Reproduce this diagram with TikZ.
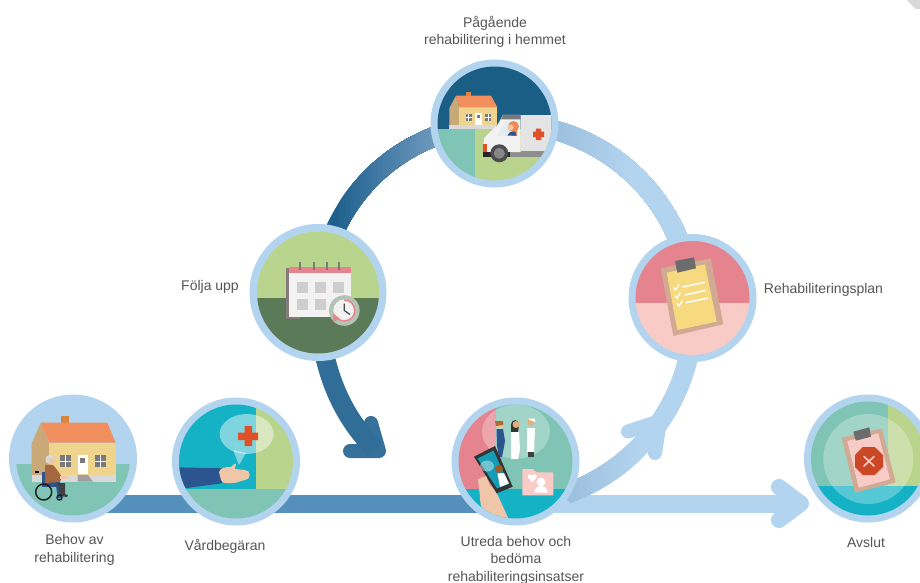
\documentclass[tikz,border=0pt]{standalone}
\usepackage{fontspec}
\setmainfont{Liberation Sans}
\usetikzlibrary{backgrounds,calc}
\definecolor{ringc}{HTML}{B3D4EF}
\definecolor{bandd}{HTML}{558FBB}
\definecolor{deep}{HTML}{1F618E}
\definecolor{deepl}{HTML}{739CC0}
\definecolor{ringd}{HTML}{9CC0DF}
\definecolor{teal}{HTML}{7FC4B4}
\definecolor{leaf}{HTML}{B9D48C}
\definecolor{cyanc}{HTML}{15B2C6}
\definecolor{sky}{HTML}{1B5E85}
\definecolor{moss}{HTML}{5B7A58}
\definecolor{rosec}{HTML}{E5848F}
\definecolor{pinkc}{HTML}{F9CBC7}
\definecolor{wall}{HTML}{EED48D}
\definecolor{sidew}{HTML}{C9A978}
\definecolor{roofc}{HTML}{F28F5F}
\definecolor{chimc}{HTML}{D9863C}
\definecolor{baseg}{HTML}{D9D9D9}
\definecolor{midg}{HTML}{7A7A7A}
\definecolor{crossc}{HTML}{E2502A}
\definecolor{armc}{HTML}{2C548F}
\definecolor{skin}{HTML}{F0C6A8}
\definecolor{boardc}{HTML}{D0AA93}
\definecolor{paperc}{HTML}{F7D97F}
\definecolor{clipc}{HTML}{6C6C6C}
\definecolor{textc}{HTML}{555555}
\definecolor{coat}{HTML}{A5673F}
\tikzset{
  x=1pt,y=-1pt,
  stage/.style={circle,inner sep=0pt,outer sep=0pt,minimum size=128pt,fill=ringc},
  stagebig/.style={stage,minimum size=137pt},
  lbl/.style={text=textc,font=\fontsize{14}{17.4}\selectfont,align=center,inner sep=0pt},
  bandline/.style={line width=18pt,line cap=butt},
  curveline/.style={line width=19.5pt,line cap=butt},
  headline/.style={line width=14pt,line cap=round,line join=round},
}
\begin{document}
\begin{tikzpicture}
\useasboundingbox (0,0) rectangle (920,583);
% stage circles
\node[stage] (beh) at (73,458.5) {};
\node[stage] (var) at (236,461.5) {};
\node[stage] (pag) at (494.5,123.5) {};
\node[stagebig] (fol) at (318,292.5) {};
\node[stage] (reh) at (692.5,298) {};
\node[stage] (utr) at (515.5,461.5) {};
\node[stage] (avs) at (868,458.5) {};
\coordinate (foltip) at (379,451);
\coordinate (folend) at (376,450);
\coordinate (folA) at (350,451);
\coordinate (folB) at (371,423);
\coordinate (uptip) at (660,421);
\coordinate (upA) at (628,431.5);
\coordinate (upB) at (655,453);
\coordinate (avstip) at (801,503.5);
\coordinate (avsA) at (779,487);
\coordinate (avsB) at (779,520);
\begin{pgfonlayer}{background}
  \fill[white] (0,0) rectangle (920,583);
  \fill[baseg] (906.5,0) -- (915.5,9) -- (920,9) -- (920,0) -- cycle;
  % horizontal bands
  \draw[bandline,bandd] (beh.center |- var.222) -- (var.center |- var.222);
  \draw[bandline,bandd] (var.center |- var.222) -- (utr.center |- var.222);
  \draw[bandline,ringc] (utr.center |- var.222) -- (avstip |- var.222);
  \draw[line width=16pt,line cap=round,line join=round,ringc] (avsA) -- (avstip) -- (avsB);
  % dark arc with horizontal gradient
  \foreach \i in {0,...,40}{
    \pgfmathsetmacro{\m}{100-\i*2.5}
    \pgfmathsetmacro{\xs}{\i==0 ? 0 : 335+\i*2.6}
    \begin{scope}
      \clip (\xs,0) rectangle (920,583);
      \draw[curveline,color=deep!\m!deepl] (pag.center) to[bend right=40] (fol.center);
    \end{scope}
  }
  \draw[headline,color=deep!90!white] (folA) -- (foltip) -- (folB);
  \draw[curveline,color=deep!92!white] (fol.center) .. controls (318,345) and (330,405) .. (folend);
  % light arcs
  \foreach \i in {0,...,30}{
    \pgfmathsetmacro{\m}{\i*3.33}
    \pgfmathsetmacro{\xs}{\i==0 ? 0 : 555+\i*2.5}
    \begin{scope}
      \clip (\xs,0) rectangle (920,583);
      \draw[curveline,color=ringc!\m!ringd] (pag.center) to[bend left=44] (reh.center);
    \end{scope}
  }
  \draw[curveline,ringc] (utr.center) -- (utr.-28) .. controls (650.8,460.9) and (699.6,382.2) .. (reh.center);
  \draw[headline,ringc] (upA) -- (uptip) -- (upB);
  \foreach \i in {0,...,24}{
    \pgfmathsetmacro{\m}{100-\i*4.16}
    \begin{scope}
      \clip (560,400) rectangle ({640-\i*2.8},520);
      \draw[curveline,color=ringc!\m!ringd] (utr.center) -- (utr.-28) .. controls (650.8,460.9) and (699.6,382.2) .. (reh.center);
    \end{scope}
  }
\end{pgfonlayer}

% ---------- Behov av rehabilitering
\begin{scope}
  \clip (beh.center) circle[radius=57];
  \fill[teal] (0,464) rectangle (140,530);
\end{scope}
\fill[sidew] (40.7,423) -- (31.7,443.3) -- (31.7,475) -- (49.3,475) -- (49.3,443.3) -- cycle;
\fill[chimc] (60.7,416) rectangle (69.3,426);
\fill[wall] (49.3,442.7) rectangle (116,475);
\fill[roofc] (40.7,422.7) -- (107.3,422.7) -- (115.7,442.7) -- (49.3,442.7) -- cycle;
\fill[baseg] (31.7,475) rectangle (116,481.7);
\fill[midg!60!baseg] (77.7,475) -- (88,475) -- (93,481.7) -- (77.7,481.7) -- cycle;
\fill[white] (77.7,454.7) rectangle (88.3,474.3);
\fill[midg] (80.3,458.3) rectangle (85.3,463.3);
\fill[midg] (60,455.3) rectangle (71,467.3);
\fill[midg] (94.7,455.3) rectangle (105.7,467.3);
\draw[white,line width=0.9pt] (65.5,455.3) -- (65.5,467.3) (60,461.3) -- (71,461.3) (100.2,455.3) -- (100.2,467.3) (94.7,461.3) -- (105.7,461.3);
\fill[black] (35,471) rectangle (39,473);
% wheelchair and person
\fill[armc] (41.7,472) rectangle (45,487);
\fill[armc] (42,482) rectangle (60,487);
\fill[armc] (56,486) -- (60,486) -- (61,498) -- (58,498) -- cycle;
\fill[coat] (45,465) to[out=0,in=120] (55,467) -- (62,477) -- (60,482) -- (45,483) -- cycle;
\fill[black!75] (56,483) -- (65,483) -- (65,494) -- (68,495) -- (67,497) -- (60,496) -- (59,487) -- cycle;
\fill[skin] (60,476) rectangle (67,479);
\draw[black!90,line width=1.4pt] (43.7,492) circle[radius=8];
\draw[black!90,line width=1.2pt] (59.5,497.5) circle[radius=2.6];
\fill[white!85!black] (50,459.5) circle[radius=4.6];
\fill[skin] (52,461) circle[radius=3];

% ---------- Vardbegaran
\begin{scope}
  \clip (var.center) circle[radius=57];
  \fill[cyanc] (170,400) rectangle (255.7,490);
  \fill[leaf] (255.7,400) rectangle (300,490);
  \fill[teal] (170,489) rectangle (300,525);
  \fill[armc] (175,467.3) -- (222,468.3) -- (222,483.3) -- (183,488.5) -- cycle;
\end{scope}
\fill[white,opacity=.45] (246.7,434) ellipse[x radius=27,y radius=20];
\fill[white,opacity=.45] (246,453) -- (239,465) -- (233,450) -- cycle;
\fill[crossc] (238,432.5) rectangle (258,440) (244.5,426) rectangle (252,446);
\fill[skin] (219,472) to[out=70,in=180] (231,467) to[out=30,in=170] (236,463.5) -- (235,469) -- (245,470) to[out=0,in=0,looseness=1.6] (245,480) to[out=190,in=0] (233,483) -- (225,483) to[out=180,in=-70] (219,472) -- cycle;

% ---------- Pagaende
\begin{scope}
  \clip (pag.center) circle[radius=57];
  \fill[sky] (430,60) rectangle (560,130);
  \fill[teal] (430,129) rectangle (475,190);
  \fill[leaf] (475,129) rectangle (560,190);
  % house
  \fill[sidew] (456,95.7) -- (449.3,108.3) -- (449.3,125) -- (459.3,125) -- (459.3,107.3) -- cycle;
  \fill[chimc] (465.7,92.3) rectangle (470.7,97);
  \fill[wall] (459.3,107.3) rectangle (497.3,125);
  \fill[roofc] (456,95.7) -- (491,95.7) -- (497.3,107.3) -- (459.3,107.3) -- cycle;
  \fill[baseg] (449.3,125) rectangle (496,129.3);
  \fill[white] (475.3,113.5) rectangle (482,125);
  \fill[midg] (477,115.5) rectangle (480,118.5);
  \fill[midg] (465.7,114) rectangle (471.7,120.7);
  \fill[midg] (485.3,114) rectangle (491.3,120.7);
  \draw[white,line width=.6pt] (468.7,114) -- (468.7,120.7) (465.7,117.3) -- (471.7,117.3) (488.3,114) -- (488.3,120.7) (485.3,117.3) -- (491.3,117.3);
  % truck
  \fill[baseg!70!white] (520.7,115) rectangle (556,152);
  \fill[midg!85!white] (510,151) rectangle (550,157.3);
  \fill[white!95!black] (483.3,146) -- (484,138.3) -- (498,124) -- (503,115) -- (520.7,115) -- (520.7,152) -- (483.3,152) -- cycle;
  \fill[midg] (503,115) -- (520.7,115) -- (520.7,119.3) -- (501,119.3) -- cycle;
  \fill[black!85] (483.3,151.5) rectangle (510,157.3);
  \fill[crossc] (483.3,144.3) rectangle (486.7,151.5);
  \fill[white!88!sky] (506,121) -- (517,121) -- (517,135.5) -- (497,135.5) -- cycle;
  \fill[roofc!70!chimc] (513.5,126.5) circle[radius=5.5];
  \fill[roofc!70!chimc] (512,128) rectangle (517,135.5);
  \fill[skin] (510.5,127.5) circle[radius=3];
  \fill[armc] (507.5,135.5) -- (510,132) -- (515,131.5) -- (516.5,135.5) -- cycle;
  \fill[black!70] (499.3,153.3) circle[radius=9];
  \fill[midg!90!white] (499.3,153.3) circle[radius=5.5];
  \fill[crossc] (533,131.5) rectangle (544,137) (535.8,128.5) rectangle (541.2,140);
\end{scope}

% ---------- Folja upp
\begin{scope}
  \clip (fol.center) circle[radius=61];
  \fill[leaf] (250,225) rectangle (390,298.3);
  \fill[moss] (250,298.3) rectangle (390,365);
\end{scope}
\fill[midg!90!rosec] (285.7,267.7) rectangle (300,319);
\fill[white!95!black] (289.3,272.7) rectangle (350.7,317.3);
\fill[rosec] (289.3,266.7) rectangle (350.7,273.3);
\foreach \cx in {300,313.7,326.7,339.3} \draw[midg,line width=2pt] (\cx,262.3) -- (\cx,270);
\foreach \cx in {296.7,314.7,333} \fill[baseg!95!black] (\cx,282) rectangle ++(11,11);
\foreach \cx in {296.7,314.7} \fill[baseg!95!black] (\cx,299) rectangle ++(11,11);
\fill[white!55!moss] (344.3,310.5) circle[radius=15.3];
\fill[white!95!black] (344.3,310.5) circle[radius=11];
\draw[rosec,line width=1.5pt] (344.3,300) arc[start angle=-90,end angle=140,radius=10.5];
\fill[rosec] (333,313) -- (339.5,318.5) -- (333,322) -- cycle;
\draw[midg!60!black,line width=1.2pt] (344.3,303.5) -- (344.3,310.5) -- (350,314.5);

% ---------- Rehabiliteringsplan
\begin{scope}
  \clip (reh.center) circle[radius=57];
  \fill[rosec] (630,235) rectangle (755,303.3);
  \fill[pinkc] (630,303.3) rectangle (755,360);
\end{scope}
\fill[boardc] (660.7,268.3) -- (710.7,258.3) -- (723.3,324.3) -- (673.3,336) -- cycle;
\fill[paperc] (666.7,272.7) -- (705,264.3) -- (716.7,321.7) -- (677.3,330) -- cycle;
\fill[clipc] (675,261) -- (694,257.3) -- (696,268.3) -- (677.3,272.7) -- cycle;
\draw[white,line width=1.5pt] (682.7,287) -- (704.7,282.3) (684.7,295) -- (706,290.3) (686,302.7) -- (708,298);
\draw[white,line width=1.3pt] (673.5,287.5) -- (675.5,290) -- (679,284.5) (675,295.5) -- (677,298) -- (680.5,292.5) (677,303.5) -- (679,306) -- (682.5,300.5);

% ---------- Utreda
\begin{scope}
  \clip (utr.center) circle[radius=57];
  \fill[rosec] (450,400) rectangle (496,490);
  \fill[teal] (496,400) rectangle (580,490);
  \fill[cyanc] (450,489) rectangle (580,525);
  \fill[white,opacity=.28] (516,431.7) ellipse[x radius=34,y radius=27];
  % nurse
  \fill[armc] (496.5,429) -- (503,429) -- (505,441) -- (504,447) -- (502,457) -- (499,457) -- (497,446) -- cycle;
  \fill[skin] (499.5,425) circle[radius=3.8];
  \fill[chimc!80!black] (495,421) -- (503,421) -- (503,425) -- (496,426) -- cycle;
  % doctor 1
  \fill[black!80] (511,425) to[out=90,in=180] (515,420) to[out=0,in=90] (519,425) -- (518,432) -- (511,432) -- cycle;
  \fill[white] (511,432) -- (519,432) -- (520,450) -- (518,459) -- (511,459) -- cycle;
  \fill[skin!60!chimc] (516,424.5) circle[radius=3.5];
  % doctor 2
  \fill[white] (527,428) -- (535,428) -- (534,452) -- (527,452) -- cycle;
  \fill[black!75] (528,452) rectangle (534,457);
  \fill[skin!60!chimc] (531,422) circle[radius=3.5];
  \fill[white] (528,418.5) -- (535,418.5) -- (535,422) -- (530,420) -- cycle;
  % folder
  \fill[pinkc] (522.3,469) -- (532.7,469) -- (536.7,472.3) -- (553.3,472.3) -- (553.3,495.3) -- (522.3,495.3) -- cycle;
  \fill[white] (530,476.5) circle[radius=2.3] (534.5,476.5) circle[radius=2.3];
  \fill[white] (528,477.5) -- (536.5,477.5) -- (532.2,482.5) -- cycle;
  \fill[white] (541,482) circle[radius=4.3];
  \fill[white] (534.5,492.5) to[out=90,in=180] (541,486) to[out=0,in=90] (547.5,492.5) -- cycle;
  % hand behind phone
  \fill[skin] (478,479) to[out=100,in=-120] (484,480) -- (495,490) -- (500,500) -- (509,520) -- (490,520) to[out=130,in=-90] (480,497) -- cycle;
  % phone
  \fill[black!80] (474,456.7) -- (495,446) -- (512.7,486.7) -- (496.7,493.3) -- cycle;
  \fill[cyanc!75!sky] (477.5,458.5) -- (493.5,450.5) -- (508.5,484) -- (497,488.5) -- cycle;
  \fill[white,opacity=.4] (487,466) ellipse[x radius=7,y radius=5.5];
  \fill[chimc!70!black] (499,469) circle[radius=4];
  \fill[white] (497.5,473.5) -- (504,473) -- (509,483.5) -- (500,487) -- cycle;
  \fill[skin] (480,478) -- (486,476) -- (490,486) -- (485,490) -- cycle;
\end{scope}

% ---------- Avslut
\begin{scope}
  \clip (avs.center) circle[radius=57];
  \fill[teal] (805,395) rectangle (887.7,486);
  \fill[leaf] (887.7,395) rectangle (930,486);
  \fill[cyanc] (805,485.7) rectangle (930,520);
  \fill[white,opacity=.28] (868.3,459) circle[radius=45];
\end{scope}
\fill[boardc] (841.7,437.7) -- (881.7,428.3) -- (895.7,482.3) -- (855,492.7) -- cycle;
\fill[pinkc] (847.3,441) -- (878.3,433.3) -- (890,479.3) -- (858.7,487.7) -- cycle;
\fill[clipc] (853.3,431.7) -- (869.3,427.3) -- (871,436.7) -- (855.7,440.7) -- cycle;
\fill[crossc!90!black] (862.7,447) -- (874.7,447) -- (883,455) -- (883,467) -- (874.7,475) -- (862.7,475) -- (855,467) -- (855,455) -- cycle;
\draw[pinkc,line width=1.6pt,line cap=round] (864,456.5) -- (874,466) (874,456.5) -- (864,466);

% ---------- labels
\node[lbl] (tpag) at (495,32) {Pågående\\rehabilitering i hemmet};
\node[lbl] (tfol) at (210,286.5) {Följa upp};
\node[lbl] (treh) at (823.5,290) {Rehabiliteringsplan};
\node[lbl] (tbeh) at (74.5,550) {Behov av\\rehabilitering};
\node[lbl] (tvar) at (225,546) {Vårdbegäran};
\node[lbl] (tutr) at (516,560) {Utreda behov och\\bedöma\\rehabiliteringsinsatser};
\node[lbl] (tavs) at (866,542) {Avslut};
\end{tikzpicture}
\end{document}
